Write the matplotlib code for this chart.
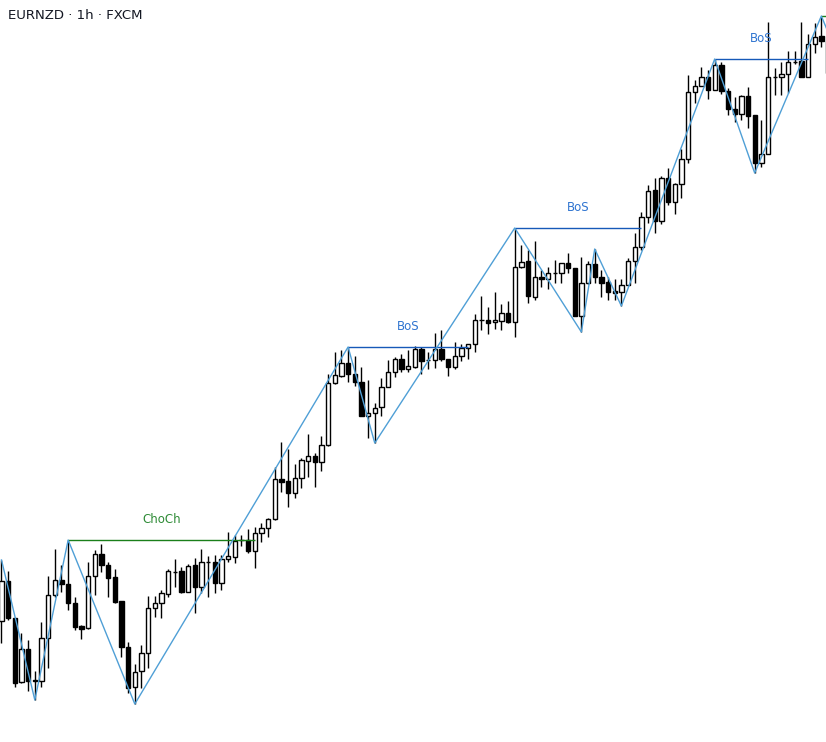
import matplotlib
matplotlib.use("Agg")
import matplotlib.pyplot as plt
from matplotlib.patches import Rectangle

# EURNZD 1h candles, prices in pips above 1.7800
open_ = [121,161,124,60,93,62,61,104,147,162,158,139,116,114,166,188,177,165,141,95,
         55,71,89,134,139,148,170,171,150,177,155,180,180,159,183,185,202,202,191,209,
         214,223,263,261,249,264,281,286,280,297,359,366,379,368,360,326,329,335,355,370,
         383,373,375,393,382,382,393,383,375,386,394,398,422,422,420,421,429,420,475,481,
         445,465,463,469,469,479,474,426,459,478,465,460,451,450,457,481,495,525,552,521,
         564,540,558,583,650,656,665,652,677,651,633,628,646,627,579,588,665,665,668,680,
         681,665,698,706,701]
high = [182,171,124,109,102,71,120,166,193,177,202,145,117,180,192,198,180,173,141,100,
        78,97,146,146,152,173,183,175,178,184,193,186,187,187,210,207,207,213,215,219,
        224,275,300,293,278,284,308,289,306,368,390,392,395,386,375,362,339,364,382,385,
        388,392,396,395,390,409,412,383,400,398,398,428,446,435,450,438,441,514,497,492,
        501,472,475,482,479,489,474,485,481,493,472,465,463,463,484,509,530,557,564,566,
        574,559,593,667,662,675,672,683,680,654,645,647,655,627,622,720,674,680,691,691,
        720,708,719,725,712]
low = [99,122,55,59,51,42,55,74,145,150,132,112,103,113,147,170,145,139,85,49,
       38,54,74,125,124,145,155,149,150,129,149,145,149,152,180,179,196,189,174,200,
       205,222,250,235,244,254,265,255,271,296,358,365,360,356,326,304,299,326,355,365,
       370,370,374,368,373,374,381,366,373,381,383,390,412,408,413,412,419,405,474,439,
       442,455,453,459,459,469,426,410,458,459,445,442,442,436,457,459,492,519,509,518,
       537,528,544,579,639,656,643,652,648,627,620,622,614,569,575,588,647,647,649,678,
       665,665,689,695,669]
close = [161,124,59,93,61,61,104,147,162,158,139,115,113,166,188,177,164,140,95,54,
         70,89,134,139,149,171,170,150,176,155,180,180,159,183,186,201,202,191,209,214,
         223,263,260,249,264,282,286,280,297,359,367,379,368,360,326,329,334,355,370,383,
         373,376,393,381,382,393,383,375,386,394,398,422,422,419,422,429,420,475,480,446,
         465,463,469,469,479,474,426,459,478,465,459,450,449,457,481,495,525,551,521,564,
         540,558,583,650,656,665,652,677,651,633,628,646,626,579,588,665,665,668,680,680,
         665,698,705,701,669]

# zigzag swing points (bar index, price)
zz_idx = [0, 5, 10, 20, 52, 56, 77, 87, 89, 93, 107, 113, 123, 125]
zz_val = [182, 42, 202, 38, 395, 299, 514, 410, 493, 436, 683, 569, 726, 694]

# structure breaks: (start bar, end bar, level, label, kind)
struct_start = [10, 52, 77, 107]
struct_end = [38, 70, 96, 121]
struct_level = [202, 395, 514, 683]
struct_label = ["ChoCh", "BoS", "BoS", "BoS"]
struct_kind = ["choch", "bos", "bos", "bos"]
last_level_start = 123
last_level = 726

title = "EURNZD · 1h · FXCM"

W, H = 826, 742
fig = plt.figure(figsize=(W / 100, H / 100), dpi=100)
ax = fig.add_axes([0, 0, 1, 1])
ax.set_xlim(-0.225, 123.7)
ax.set_ylim(0, 742)
ax.axis("off")

bw = 0.65
for i, (o, h, l, c) in enumerate(zip(open_, high, low, close)):
    ax.vlines(i, l, h, color="black", lw=1.0, zorder=2)
    if o == c:
        ax.hlines(o, i - bw / 2, i + bw / 2, color="black", lw=1.0, zorder=3)
    else:
        bull = c > o
        ax.add_patch(Rectangle((i - bw / 2, min(o, c)), bw, abs(c - o),
                               facecolor="white" if bull else "black",
                               edgecolor="black", lw=1.0, zorder=3))

ax.plot(zz_idx, zz_val, color="#4f9fd6", lw=1.0, zorder=5)

for s, e, lv, lab, k in zip(struct_start, struct_end, struct_level, struct_label, struct_kind):
    lc = "#1a7f1a" if k == "choch" else "#1659b8"
    tc = "#2e8b36" if k == "choch" else "#2f74d0"
    ax.hlines(lv, s, e, color=lc, lw=1.0, zorder=4)
    ax.text((s + e) / 2, lv + 17, lab, color=tc, fontsize=8.5,
            ha="center", va="baseline", zorder=6)

ax.hlines(last_level, last_level_start, 126, color="#1a7f1a", lw=1.0, zorder=4)

fig.text(8 / W, 1 - 19 / H, title, fontsize=9.5, color="#131722",
         ha="left", va="baseline")

fig.savefig("out.png", dpi=100, facecolor="white")
